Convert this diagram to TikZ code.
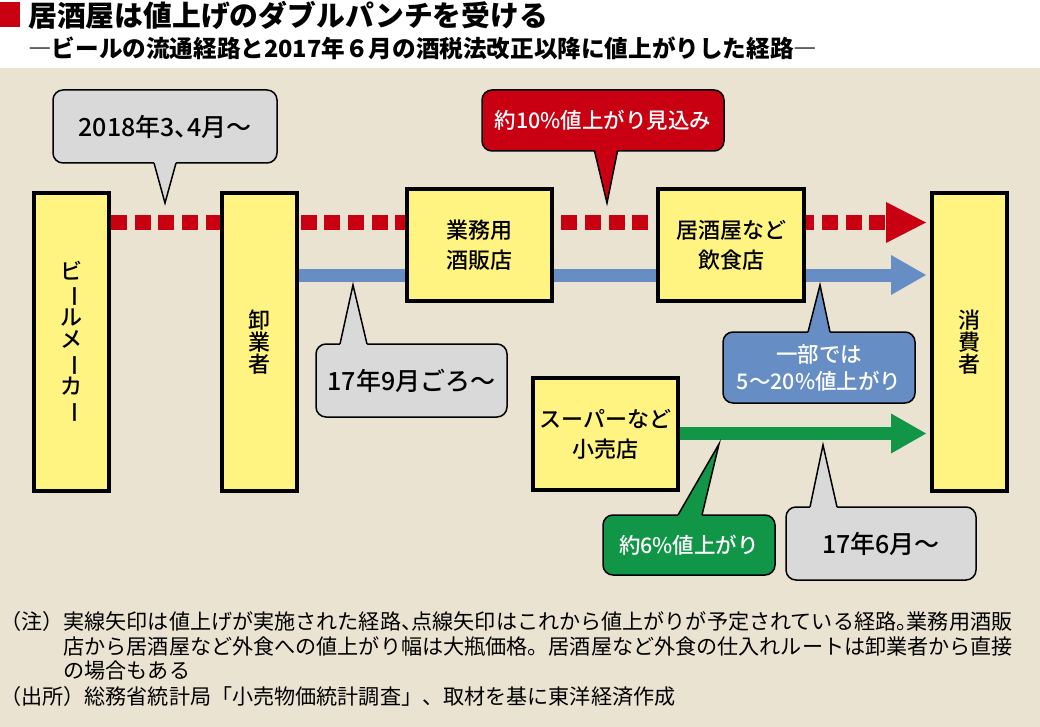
\documentclass[tikz,border=0pt]{standalone}
\usepackage{fontspec}
\usepackage{graphicx}
\usetikzlibrary{calc}
\newfontfamily\jp{Noto Sans CJK JP}
\IfFontExistsTF{Noto Sans CJK JP Medium}{\newfontfamily\jpm{Noto Sans CJK JP Medium}}{\newfontfamily\jpm{Noto Sans CJK JP}}
\IfFontExistsTF{Noto Sans CJK JP Black}{\newfontfamily\jph{Noto Sans CJK JP Black}}{\newfontfamily\jph{Noto Sans CJK JP}[FakeBold=0]}
\definecolor{bgbeige}{RGB}{234,227,210}
\definecolor{boxyellow}{RGB}{255,244,130}
\definecolor{calgray}{RGB}{217,217,217}
\definecolor{redc}{RGB}{200,0,18}
\definecolor{bluec}{RGB}{102,141,196}
\definecolor{greenc}{RGB}{16,150,70}
\pgfdeclarelayer{bglayer}
\pgfdeclarelayer{linelayer}
\pgfsetlayers{bglayer,linelayer,main}
\newcommand\vchoon{\rotatebox[origin=c]{-90}{ー}}
\newcommand\hw[1]{\makebox[0.5em][l]{#1}}
\newcommand\ptr[5]{%
  \fill[#4] ($(#1)+(-#2,#5)$) -- ($(#1)+(-#2,0)$) -- (#3) -- ($(#1)+(#2,0)$) -- ($(#1)+(#2,#5)$) -- cycle;
  \draw[line width=1.5pt, line join=miter] ($(#1)+(-#2,0)$) -- (#3) -- ($(#1)+(#2,0)$);}
\begin{document}
\begin{tikzpicture}[x=1pt,y=-1pt,
  yelbox/.style={draw=black, line width=4pt, fill=boxyellow, inner sep=0pt, align=center, font=\jpm\fontsize{22}{30}\selectfont},
  vtext/.style={font=\jpm\fontsize{22}{22.3}\selectfont},
  callout/.style={draw=black, line width=1.5pt, rounded corners=10pt, inner sep=0pt, align=center},
  grayc/.style={callout, fill=calgray, font=\jpm\fontsize{25}{30}\selectfont},
  colc/.style={callout, text=white, font=\jpm\fontsize{21.5}{27}\selectfont},
  note/.style={anchor=west, inner sep=0pt, font=\jp\fontsize{21.1}{25}\selectfont}
]
\useasboundingbox (0,0) rectangle (1040,727);
\begin{pgfonlayer}{bglayer}
  \fill[white] (0,0) rectangle (1040,68);
  \fill[bgbeige] (0,68) rectangle (1040,727);
\end{pgfonlayer}

% title
\fill[redc] (0,2) rectangle (20,27);
\node[anchor=west, inner sep=0pt, font=\jph\fontsize{28.8}{30}\selectfont] (title) at (28,15) {居酒屋は値上げのダブルパンチを受ける};
\node[anchor=west, inner sep=0pt, font=\jp\bfseries\fontsize{23.6}{26}\selectfont] (subtitle) at (28,48) {―ビールの流通経路と2017年６月の酒税法改正以降に値上がりした経路―};

% boxes
\node[yelbox, vtext, minimum width=75pt, minimum height=298pt] (maker) at (71.5,342) {ビ\\\vchoon\\ル\\メ\\\vchoon\\カ\\\vchoon};
\node[yelbox, vtext, minimum width=75pt, minimum height=298pt] (wholesaler) at (259.5,342) {卸\\業\\者};
\node[yelbox, minimum width=145pt, minimum height=112pt] (gyomu) at (479.5,245) {業務用\\酒販店};
\node[yelbox, minimum width=146pt, minimum height=112pt] (izakaya) at (731,245) {居酒屋など\\飲食店};
\node[yelbox, vtext, minimum width=75pt, minimum height=298pt] (consumer) at (969.5,342) {消\\費\\者};
\node[yelbox, minimum width=145pt, minimum height=112pt] (super) at (605.5,434) {スーパーなど\\小売店};

% rows
\coordinate (redrow) at (0,222.5);
\coordinate (bluerow) at (0,275);
\coordinate (greenrow) at (0,433.5);
\coordinate (redtip) at ($(consumer.west |- redrow)+(-4,0)$);
\coordinate (redbase) at ($(redtip)+(-40,0)$);
\coordinate (bluetip) at ($(consumer.west |- bluerow)+(-4,0)$);
\coordinate (bluebase) at ($(bluetip)+(-35,0)$);
\coordinate (greentip) at ($(consumer.west |- greenrow)+(-4,0)$);
\coordinate (greenbase) at ($(greentip)+(-35,0)$);

\begin{pgfonlayer}{linelayer}
  \draw[redc, line width=15pt, dash pattern=on 16pt off 7.7pt] (maker.east |- redrow) -- (redbase);
  \fill[redc] ($(redbase)+(0,-20.5)$) -- (redtip) -- ($(redbase)+(0,20.5)$) -- cycle;
  \draw[bluec, line width=13pt] (wholesaler.east |- bluerow) -- (bluebase);
  \fill[bluec] ($(bluebase)+(0,-20)$) -- (bluetip) -- ($(bluebase)+(0,20)$) -- cycle;
  \draw[greenc, line width=13pt] (super.east |- greenrow) -- (greenbase);
  \fill[greenc] ($(greenbase)+(0,-20)$) -- (greentip) -- ($(greenbase)+(0,20)$) -- cycle;
\end{pgfonlayer}

% callouts
\node[grayc, minimum width=224pt, minimum height=73pt] (c18) at (165,126.5) {2018年3\hw{、}4月〜};
\coordinate (b18) at (165,163);
\coordinate (t18) at (165,203);
\ptr{b18}{11}{t18}{calgray}{-2}

\node[colc, fill=redc, minimum width=242pt, minimum height=61pt] (cred) at (603,120.5) {約10\%値上がり見込み};
\coordinate (bred) at (606,151);
\coordinate (tred) at (607,203);
\ptr{bred}{11.5}{tred}{redc}{-2}

\node[grayc, minimum width=191pt, minimum height=73pt] (c179) at (411.5,380.5) {17年9月ごろ〜};
\coordinate (b179) at (353.5,344);
\coordinate (t179) at (353,285);
\ptr{b179}{13.5}{t179}{calgray}{2}

\node[colc, fill=bluec, minimum width=192pt, minimum height=71pt] (cblue) at (819,367.5) {一部では\\5〜20\%値上がり};
\coordinate (bblue) at (819,332);
\coordinate (tblue) at (820,285);
\ptr{bblue}{11}{tblue}{bluec}{2}

\node[colc, fill=greenc, minimum width=172pt, minimum height=60pt] (cgreen) at (689,545) {約6\%値上がり};
\coordinate (bgreen) at (690,515);
\coordinate (tgreen) at (719,444);
\ptr{bgreen}{12}{tgreen}{greenc}{2}

\node[grayc, minimum width=190pt, minimum height=73pt] (c176) at (881,543.5) {17年6月〜};
\coordinate (b176) at (823.5,507);
\coordinate (t176) at (823,445);
\ptr{b176}{13.5}{t176}{calgray}{2}

% notes
\node[note] (n1) at (0,621) {（注）実線矢印は値上げが実施された経路\hw{、}点線矢印はこれから値上がりが予定されている経路\hw{。}業務用酒販};
\node[note] (n2) at (63.3,646) {店から居酒屋など外食への値上がり幅は大瓶価格。居酒屋など外食の仕入れルートは卸業者から直接};
\node[note] (n3) at (63.3,671) {の場合もある};
\node[note] (n4) at (0,696) {（出所）総務省統計局「小売物価統計調査」、取材を基に東洋経済作成};
\end{tikzpicture}
\end{document}
